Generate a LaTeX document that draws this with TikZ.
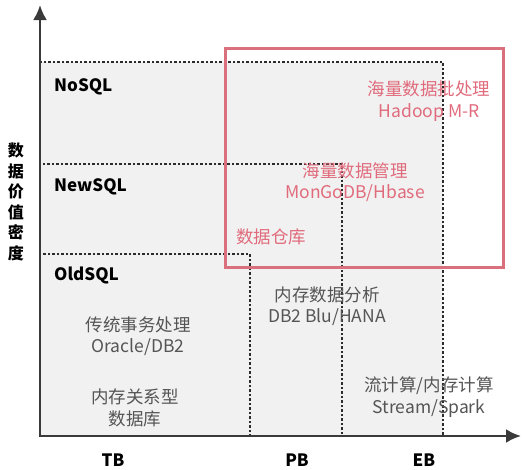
\documentclass[tikz,border=0pt]{standalone}
\usepackage{fontspec}
\setmainfont{Noto Sans CJK SC}
\usetikzlibrary{arrows.meta,positioning}
\definecolor{boxgray}{HTML}{F1F1F1}
\definecolor{dotline}{HTML}{2B2B2B}
\definecolor{axisgray}{HTML}{3A3A3A}
\definecolor{hotred}{HTML}{D9707B}
\definecolor{hottext}{HTML}{E06B7C}
\definecolor{softtext}{HTML}{555555}
\tikzset{
  region/.style={fill=boxgray, draw=dotline, line width=2.5pt, dash pattern=on 2.5pt off 2pt},
  axis/.style={draw=axisgray, line width=2.5pt, -{Latex[length=15pt,width=14pt]}},
  tier/.style={anchor=west, inner sep=0pt, font=\fontsize{17}{20}\selectfont\bfseries},
  tech/.style={align=center, inner sep=0pt, text=softtext, font=\fontsize{17.5}{21.5}\selectfont},
  hot/.style={align=center, inner sep=0pt, text=hottext, font=\fontsize{17.5}{21.5}\selectfont},
  volume/.style={inner sep=0pt, font=\fontsize{17}{20}\selectfont\bfseries}
}
\begin{document}
\begin{tikzpicture}[x=1pt,y=-1pt]
\useasboundingbox (0,0) rectangle (522,469);
% nested regions
\draw[region] (40,62) rectangle (443,436);
\draw[region] (40,164) rectangle (342,436);
\draw[region] (40,254) rectangle (250,436);
% hot zone
\draw[hotred, line width=3pt] (225,48) rectangle (503,267);
% axes
\coordinate (origin) at (40,436);
\coordinate (ytip) at (40,5);
\coordinate (xtip) at (521,436);
\draw[axis] (origin) -- (ytip);
\draw[axis] (origin) -- (xtip);
\node[align=center, inner sep=0pt, font=\fontsize{16}{20.5}\selectfont\bfseries] (density) at (16,202) {数\\据\\价\\值\\密\\度};
% tiers
\node[tier] (nosql) at (54,87) {NoSQL};
\node[tier] (newsql) at (54,187) {NewSQL};
\node[tier] (oldsql) at (54,275) {OldSQL};
% volumes
\node[volume] (tb) at (113,460) {TB};
\node[volume] (pb) at (297,460) {PB};
\node[volume] (eb) at (424,460) {EB};
% technologies
\node[tech] (oltp) at (138,336) {传统事务处理\\Oracle/DB2};
\node[tech] (memrel) at (135,408) {内存关系型\\数据库};
\node[tech] (memana) at (327,306) {内存数据分析\\DB2 Blu/HANA};
\node[tech] (stream) at (429,397) {流计算/内存计算\\Stream/Spark};
\node[hot] (batch) at (429,101) {海量数据批处理\\Hadoop M-R};
\node[hot] (mass) at (355,182) {海量数据管理\\MonGoDB/Hbase};
\node[hot, anchor=west] (dw) at (236,237) {数据仓库};
\end{tikzpicture}
\end{document}
